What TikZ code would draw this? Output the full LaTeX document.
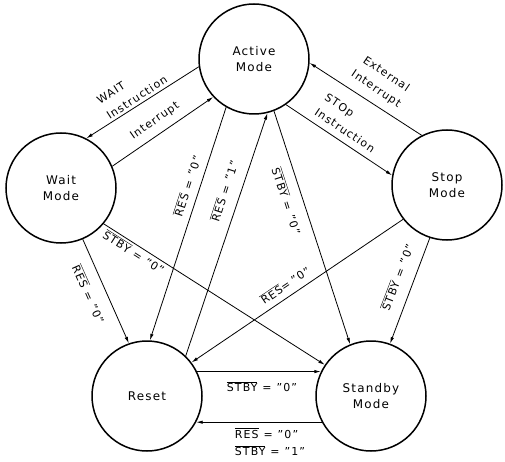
\documentclass[tikz,border=0pt]{standalone}
\usepackage{fontspec}
\setmainfont{DejaVu Sans}[LetterSpace=10]
\usetikzlibrary{arrows.meta}
\newcommand\ovl[1]{$\overline{\hbox{#1}}$}
\newcommand\eqs{\hspace{0.45em}=\hspace{0.45em}}
\begin{document}
\begin{tikzpicture}[x=1bp,y=-1bp,
  state/.style={circle,draw,line width=1.5bp,minimum size=110bp,inner sep=0pt,align=center,font=\fontsize{12}{16}\selectfont},
  tr/.style={line width=0.8bp,-{Latex[length=6.5bp,width=3.4bp]}},
  lab/.style={font=\fontsize{11}{18}\selectfont,inner sep=0pt}]
\useasboundingbox (0,0) rectangle (505,462);
\node[state] (A) at (254,59) {Active\\Mode};
\node[state] (W) at (61,188) {Wait\\Mode};
\node[state] (P) at (447,185) {Stop\\Mode};
\node[state] (R) at (147,396) {Reset};
\node[state] (S) at (371,396) {Standby\\Mode};
\draw[tr] (A.188) -- (W.63);
\draw[tr] (W.23) -- (A.223);
\draw[tr] (P.117) -- (A.-4);
\draw[tr] (A.-55) -- (P.170);
\draw[tr] (A.-120) -- (R.87);
\draw[tr] (R.46) -- (A.-76);
\draw[tr] (A.-69) -- (S.112);
\draw[tr] (W.-40) -- (S.146);
\draw[tr] (W.-67) -- (R.109);
\draw[tr] (P.-142) -- (R.37);
\draw[tr] (P.-108) -- (S.70);
\draw[tr] (R.26) -- (S.154);
\draw[tr] (S.-152) -- (R.-28);
\node[lab,rotate=33,align=left] (l1) at (132,90) {WAIT\\Instruction};
\node[lab,rotate=35] (l2) at (155,121) {Interrupt};
\node[lab,rotate=-34,align=center] (l3) at (381,82) {External\\Interrupt};
\node[lab,rotate=-34,align=left] (l4) at (350,123) {STOp\\Instruction};
\node[lab,rotate=72] (l5) at (187,186) {\ovl{RES}\eqs''0''};
\node[lab,rotate=72] (l6) at (224,191) {\ovl{RES}\eqs''1''};
\node[lab,rotate=-72] (l7) at (287,201) {\ovl{STBY}\eqs''0''};
\node[lab,rotate=-32.5] (l8) at (134,252) {\ovl{STBY}\eqs''0''};
\node[lab,rotate=-66] (l9) at (89,294) {\ovl{RES}\eqs''0''};
\node[lab,rotate=34] (l10) at (285,285) {\ovl{RES}=\hspace{0.3em}''0''};
\node[lab,rotate=69] (l11) at (397,277) {\ovl{STBY}\eqs''0''};
\node[lab] (l12) at (262,387) {\ovl{STBY}\eqs''0''};
\node[lab,align=left] (l13) at (270,442) {\ovl{RES}\eqs''0''\\\ovl{STBY}\eqs''1''};
\end{tikzpicture}
\end{document}
